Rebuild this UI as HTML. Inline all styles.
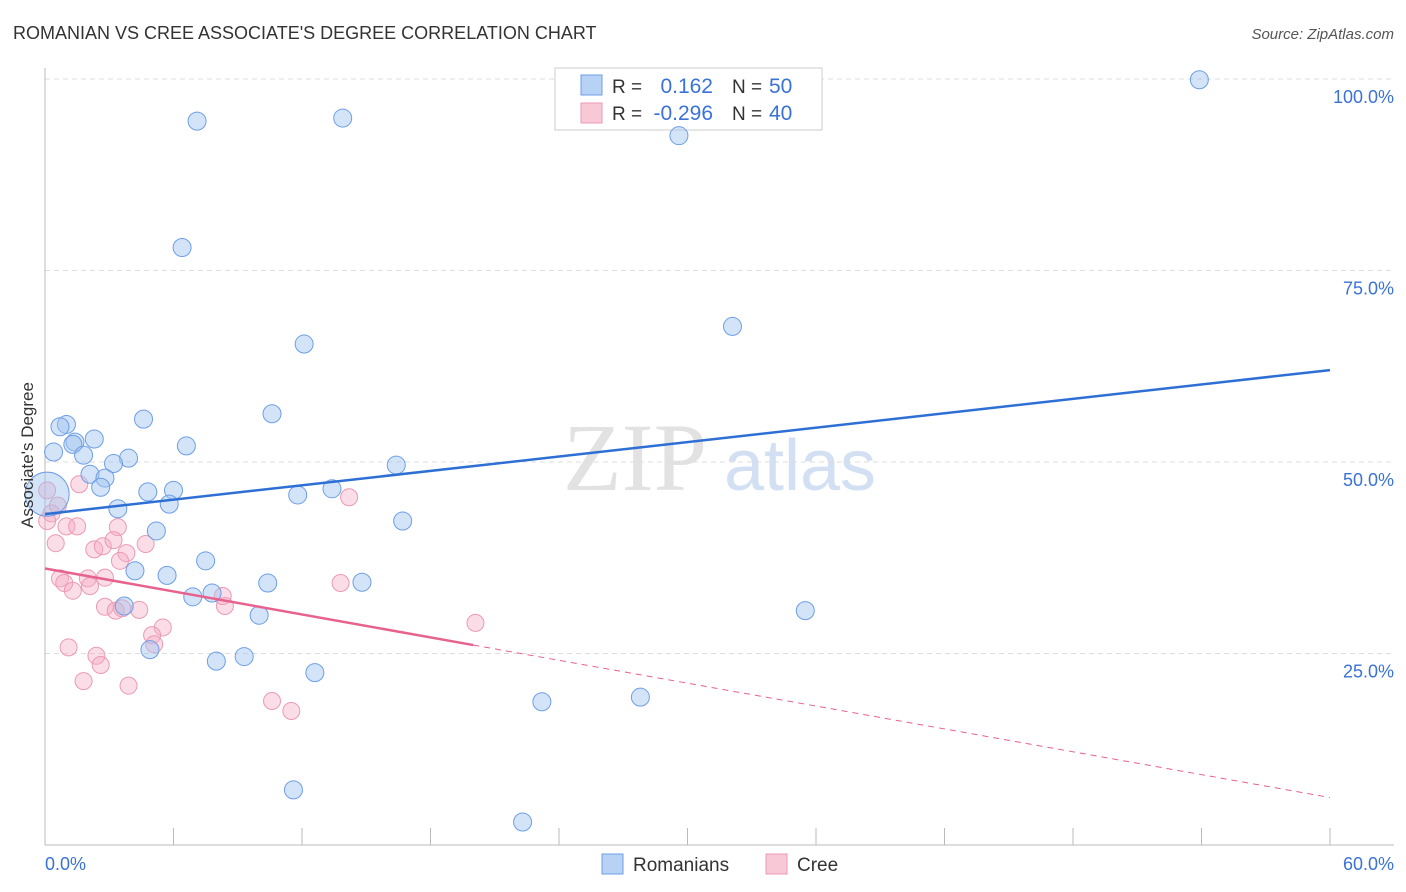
<!DOCTYPE html>
<html><head><meta charset="utf-8"><style>
body{margin:0;background:#fff;font-family:"Liberation Sans",sans-serif;}
#wrap{position:relative;width:1406px;height:892px;overflow:hidden;}
</style></head><body>
<div id="wrap">
<svg id="svg" width="1406" height="892" xmlns="http://www.w3.org/2000/svg">
<text x="13" y="39" font-size="18" fill="#333">ROMANIAN VS CREE ASSOCIATE'S DEGREE CORRELATION CHART</text>
<text x="1394" y="39" font-size="15" fill="#555" font-style="italic" text-anchor="end">Source: ZipAtlas.com</text>
<text x="635" y="490" font-size="96" fill="#e2e2e2" font-family="Liberation Serif" text-anchor="middle">ZIP</text>
<text x="800" y="490" font-size="72" fill="#d3e0f3" text-anchor="middle">atlas</text>
<g id="grid"></g>
<g>
<rect x="555" y="68" width="267" height="62" fill="#fff" stroke="#ccc"/>
<rect x="581" y="75" width="21" height="20" fill="#b8d2f5" stroke="#6d9ee6"/>
<rect x="581" y="103" width="21" height="20" fill="#f9c8d6" stroke="#ec9ab2"/>
<text x="612" y="93" font-size="19" fill="#333">R =</text><text x="713" y="93" font-size="21" fill="#3a72d8" text-anchor="end">0.162</text>
<text x="732" y="93" font-size="19" fill="#333">N =</text><text x="769" y="93" font-size="21" fill="#3a72d8">50</text>
<text x="612" y="120" font-size="19" fill="#333">R =</text><text x="713" y="120" font-size="21" fill="#3a72d8" text-anchor="end">-0.296</text>
<text x="732" y="120" font-size="19" fill="#333">N =</text><text x="769" y="120" font-size="21" fill="#3a72d8">40</text>
</g>
<g id="marks"></g><g id="lines"></g>
<text transform="translate(33,455) rotate(-90)" font-size="17" fill="#333" text-anchor="middle">Associate's Degree</text>
<text x="45" y="870" font-size="18" fill="#3a72d8">0.0%</text>
<text x="1394" y="870" font-size="18" fill="#3a72d8" text-anchor="end">60.0%</text>
<g><rect x="602" y="854" width="21" height="20" fill="#b8d2f5" stroke="#6d9ee6"/><text x="633" y="871" font-size="19" fill="#333">Romanians</text></g>
<g><rect x="766" y="854" width="21" height="20" fill="#f9c8d6" stroke="#ec9ab2"/><text x="797" y="871" font-size="19" fill="#333">Cree</text></g>
</svg></div>
<script>
const blueX=[7.1,13.9,29.6,53.9,6.4,32.1,12.1,10.6,4.6,1.0,0.7,2.3,1.4,1.3,6.6,0.4,1.8,3.9,3.2,16.4,2.1,2.8,2.6,4.8,6.0,13.4,11.8,5.8,3.4,16.7,5.2,7.5,4.2,5.7,10.4,14.8,6.9,7.8,3.7,10.0,35.5,8.0,4.9,9.3,12.6,23.2,27.8,11.6,22.3,0.1];
const blueY=[94.5,94.9,92.6,99.9,78.0,67.7,65.4,56.3,55.6,54.9,54.6,53.0,52.6,52.3,52.1,51.3,50.9,50.5,49.8,49.6,48.4,47.9,46.7,46.1,46.3,46.5,45.7,44.5,43.9,42.3,41.0,37.1,35.8,35.2,34.2,34.3,32.4,32.9,31.2,30.0,30.6,24.0,25.5,24.6,22.5,18.7,19.3,7.2,3.0,45.8];
const pinkX=[0.1,1.6,14.2,0.3,0.5,1.0,1.5,3.4,2.3,2.7,3.2,4.7,3.8,3.5,0.7,2.0,2.8,0.9,1.3,2.1,13.8,2.8,3.3,4.4,8.4,8.3,5.5,5.0,5.1,3.6,1.1,2.4,2.6,1.8,3.9,10.6,11.5,20.1,0.1,0.6];
const pinkY=[46.3,47.1,45.4,43.3,39.4,41.6,41.6,41.5,38.6,39.0,39.8,39.3,38.1,37.1,34.8,34.8,34.9,34.2,33.2,33.8,34.2,31.1,30.6,30.7,31.2,32.5,28.4,27.4,26.2,30.9,25.8,24.7,23.5,21.4,20.8,18.8,17.5,29.0,42.3,44.3];
const blueSize=Array(50).fill(9);blueSize[49]=22;
const X0=45,X1=1330,Y0=845,Y100=79;
const sx=v=>X0+(X1-X0)*v/60, sy=v=>Y0-(Y0-Y100)*v/100;
const NS="http://www.w3.org/2000/svg";
const grid=document.getElementById('grid'),marks=document.getElementById('marks'),lines=document.getElementById('lines');
function mk(tag,attrs,parent){const e=document.createElementNS(NS,tag);for(const k in attrs)e.setAttribute(k,attrs[k]);parent.appendChild(e);return e;}
const yTicks=[25,50,75,100];
yTicks.forEach(t=>{
 const l=mk('line',{x1:45,x2:1394,y1:sy(t),y2:sy(t),stroke:'#ddd','stroke-dasharray':'5,4'},grid);
 
 
 const tx=mk('text',{x:1394,y:sy(t)+24,'font-size':18,fill:'#3a72d8','text-anchor':'end'},grid);tx.textContent=t.toFixed(1)+'%';
 
 
});
const ax=mk('line',{x1:45,x2:45,y1:68,y2:845,stroke:'#bbb'},grid);


const bx=mk('line',{x1:45,x2:1394,y1:845,y2:845,stroke:'#bbb'},grid);


for(let i=0;i<=10;i++){const t=mk('line',{x1:sx(i*6),x2:sx(i*6),y1:828,y2:845,stroke:'#bbb'},grid);
 
 }
pinkX.forEach((x,i)=>{const c=mk('circle',{cx:sx(x),cy:sy(pinkY[i]),r:8.5,fill:'rgba(246,170,195,0.4)',stroke:'#ec9ab2','stroke-width':1},marks);
 
 });
blueX.forEach((x,i)=>{const c=mk('circle',{cx:sx(x),cy:sy(blueY[i]),r:blueSize[i],fill:'rgba(160,195,240,0.45)',stroke:'#6d9ee6','stroke-width':1},marks);
 
 });
const bl=mk('line',{x1:sx(0),y1:sy(43.2),x2:sx(60),y2:sy(62.0),stroke:'#2e6fd6','stroke-width':2.5},lines);


const pl=mk('line',{x1:sx(0),y1:sy(36.1),x2:sx(20),y2:sy(26.1),stroke:'#e8628e','stroke-width':2.5},lines);


const pd=mk('line',{x1:sx(20),y1:sy(26.1),x2:sx(60),y2:sy(6.2),stroke:'#e8628e','stroke-width':1,'stroke-dasharray':'6,5'},lines);


</script>
</body></html>
